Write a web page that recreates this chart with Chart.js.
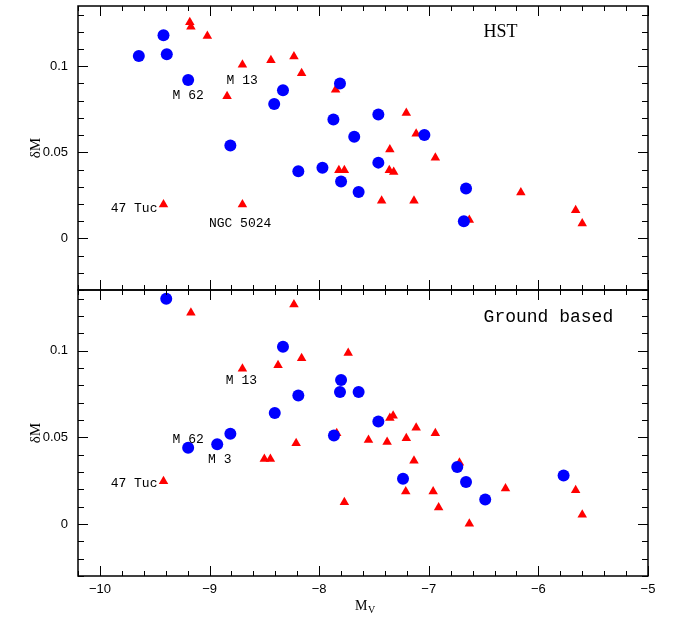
<!DOCTYPE html>
<html>
<head>
<meta charset="utf-8">
<script src="https://cdn.jsdelivr.net/npm/chart.js@4"></script>
<style>
  body { margin: 0; background: #fff; }
  .wrap { position: relative; width: 681px; height: 619px; }
  canvas { position: absolute; left: 0; }
</style>
</head>
<body>
<div class="wrap">
  <canvas id="hst" width="681" height="300" style="top:0"></canvas>
  <canvas id="ground" width="681" height="339" style="top:280px"></canvas>
</div>
<script>
// HST panel
const hstCircX = [-9.645, -9.42, -9.39, -9.195, -8.81, -8.41, -8.33, -8.19, -7.97, -7.81, -7.87, -7.68, -7.80, -7.64, -7.46, -7.46, -7.04, -6.66, -6.68];
const hstCircY = [0.106, 0.118, 0.107, 0.092, 0.054, 0.078, 0.086, 0.039, 0.041, 0.090, 0.069, 0.059, 0.033, 0.027, 0.072, 0.044, 0.060, 0.029, 0.010];
const hstTriX = [-9.18, -9.17, -9.02, -8.70, -8.84, -8.44, -8.23, -8.16, -7.85, -7.82, -7.77, -9.42, -8.70, -7.205, -7.115, -7.355, -6.94, -7.36, -7.32, -7.43, -7.135, -6.16, -6.63, -5.66, -5.60];
const hstTriY = [0.1255, 0.123, 0.1176, 0.1008, 0.0826, 0.1035, 0.1056, 0.096, 0.0863, 0.0396, 0.0396, 0.0197, 0.0197, 0.0728, 0.0608, 0.0517, 0.0469, 0.0396, 0.0386, 0.0218, 0.0218, 0.0267, 0.0106, 0.0164, 0.0087];

// ground based panel
const gbCircX = [-9.395, -8.33, -8.19, -7.80, -7.81, -7.64, -8.405, -7.865, -8.81, -8.93, -9.195, -7.46, -7.235, -6.74, -6.66, -6.485, -5.77];
const gbCircY = [0.130, 0.1022, 0.0742, 0.0831, 0.0761, 0.0761, 0.0640, 0.0510, 0.0520, 0.0460, 0.0440, 0.0591, 0.0261, 0.0329, 0.0242, 0.0141, 0.0280];
const gbTriX = [-9.17, -8.23, -8.16, -8.375, -8.70, -7.735, -8.21, -8.50, -8.445, -9.42, -7.77, -7.84, -7.55, -7.38, -7.355, -7.325, -7.205, -7.115, -6.94, -7.135, -7.21, -6.96, -6.91, -6.72, -6.63, -6.30, -5.66, -5.60];
const gbTriY = [0.1219, 0.1267, 0.0956, 0.0916, 0.0896, 0.0987, 0.0466, 0.0375, 0.0375, 0.0246, 0.0126, 0.0524, 0.0485, 0.0473, 0.0611, 0.0624, 0.0495, 0.0556, 0.0524, 0.0365, 0.0188, 0.0188, 0.0095, 0.0353, 0.0002, 0.0205, 0.0195, 0.0054];

// axes
const xTickValues = [-10, -9, -8, -7, -6, -5];
const yTickValues = [0, 0.05, 0.1];
const X_MIN = -10.2, X_MAX = -5, Y_MIN = -0.03, Y_MAX = 0.135;

// text on the panels (data coords of the text anchor)
const hstLabels = [
  { text: "HST", x: -6.345, y: 0.1168, serif: true, size: 18, align: "center" },
  { text: "M 13", x: -8.845, y: 0.0898 },
  { text: "M 62", x: -9.337, y: 0.0809 },
  { text: "47 Tuc", x: -9.902, y: 0.0152 },
  { text: "NGC 5024", x: -9.006, y: 0.0067 },
];
const gbLabels = [
  { text: "Ground based", x: -6.50, y: 0.1165, size: 18 },
  { text: "M 13", x: -8.851, y: 0.0809 },
  { text: "M 62", x: -9.337, y: 0.0469 },
  { text: "M 3", x: -9.013, y: 0.035 },
  { text: "47 Tuc", x: -9.902, y: 0.0214 },
];

const toPoints = (xs, ys) => xs.map((x, i) => ({ x: x, y: ys[i] }));

// frame, inward ticks on all sides, annotations and axis titles
const framePlugin = {
  id: "frame",
  afterDraw(chart, args, opts) {
    const ctx = chart.ctx;
    const a = chart.chartArea;
    const xs = chart.scales.x;
    const ys = chart.scales.y;
    ctx.save();
    ctx.strokeStyle = "#000";
    ctx.lineWidth = 1;
    ctx.beginPath();
    for (let i = 0; i <= 26; i++) {
      const v = X_MIN + i * 0.2;
      const px = Math.round(xs.getPixelForValue(v)) + 0.5;
      const len = Math.abs(v - Math.round(v)) < 1e-6 ? 10 : 5;
      ctx.moveTo(px, a.top); ctx.lineTo(px, a.top + len);
      ctx.moveTo(px, a.bottom); ctx.lineTo(px, a.bottom - len);
    }
    for (let i = 0; i <= 16; i++) {
      const v = -0.03 + i * 0.01;
      const py = Math.round(ys.getPixelForValue(v)) + 0.5;
      const len = Math.abs(v / 0.05 - Math.round(v / 0.05)) < 1e-6 ? 10 : 6;
      ctx.moveTo(a.left, py); ctx.lineTo(a.left + len, py);
      ctx.moveTo(a.right, py); ctx.lineTo(a.right - len, py);
    }
    ctx.stroke();
    ctx.lineWidth = 1.5;
    ctx.strokeRect(a.left, a.top, a.right - a.left, a.bottom - a.top);

    ctx.fillStyle = "#000";
    ctx.textBaseline = "alphabetic";
    opts.labels.forEach((l) => {
      ctx.font = l.serif ? `${l.size}px "Liberation Serif"` : `${l.size || 13}px "Liberation Mono"`;
      ctx.textAlign = l.align || "left";
      ctx.fillText(l.text, xs.getPixelForValue(l.x), ys.getPixelForValue(l.y));
    });

    // delta M title
    ctx.save();
    ctx.translate(36, (a.top + a.bottom) / 2);
    ctx.rotate(-Math.PI / 2);
    ctx.textAlign = "center";
    ctx.textBaseline = "middle";
    ctx.font = '15px "Liberation Serif"';
    ctx.fillText("\u03B4M", 0, 0);
    ctx.restore();

    if (opts.xTitle) {
      const cx = (a.left + a.right) / 2;
      const base = a.bottom + 34;
      ctx.textAlign = "left";
      ctx.font = '14px "Liberation Serif"';
      ctx.fillText("M", cx - 8, base);
      ctx.font = '10px "Liberation Serif"';
      ctx.fillText("V", cx + 5, base + 3);
    }
    ctx.restore();
  },
};

function makePanel(el, circles, triangles, labels, showX) {
  return new Chart(el, {
    type: "scatter",
    data: {
      datasets: [
        {
          data: circles,
          pointStyle: "circle",
          pointRadius: 6,
          backgroundColor: "#0000ff",
          borderWidth: 0,
        },
        {
          data: triangles,
          pointStyle: "triangle",
          pointRadius: 5.5,
          backgroundColor: "#ff0000",
          borderWidth: 0,
        },
      ],
    },
    options: {
      responsive: false,
      animation: false,
      devicePixelRatio: 1,
      events: [],
      layout: { padding: { left: 0, right: 33, top: showX ? 10 : 5, bottom: showX ? 0 : 10 } },
      plugins: {
        legend: { display: false },
        tooltip: { enabled: false },
        frame: { labels: labels, xTitle: showX },
      },
      scales: {
        x: {
          type: "linear",
          display: showX,
          min: X_MIN,
          max: X_MAX,
          grid: { display: false, drawTicks: false },
          border: { display: false },
          afterBuildTicks: (s) => { s.ticks = xTickValues.map((v) => ({ value: v })); },
          afterFit: (s) => {
            s.height = showX ? 43 : 0;
            s.paddingLeft = 0;
            s.paddingRight = 0;
          },
          ticks: {
            padding: 6,
            color: "#000",
            maxRotation: 0,
            font: { family: "Liberation Sans", size: 13 },
            callback: (v) => "\u2212" + Math.abs(v),
          },
        },
        y: {
          type: "linear",
          min: Y_MIN,
          max: Y_MAX,
          grid: { display: false, drawTicks: false },
          border: { display: false },
          afterBuildTicks: (s) => { s.ticks = yTickValues.map((v) => ({ value: v })); },
          afterFit: (s) => {
            s.width = 78;
            s.paddingTop = 0;
            s.paddingBottom = 0;
          },
          ticks: {
            padding: 10,
            color: "#000",
            font: { family: "Liberation Sans", size: 13 },
            callback: (v) => String(v),
          },
        },
      },
    },
    plugins: [framePlugin],
  });
}

makePanel(document.getElementById("hst"), toPoints(hstCircX, hstCircY), toPoints(hstTriX, hstTriY), hstLabels, false);
makePanel(document.getElementById("ground"), toPoints(gbCircX, gbCircY), toPoints(gbTriX, gbTriY), gbLabels, true);
</script>
</body>
</html>
